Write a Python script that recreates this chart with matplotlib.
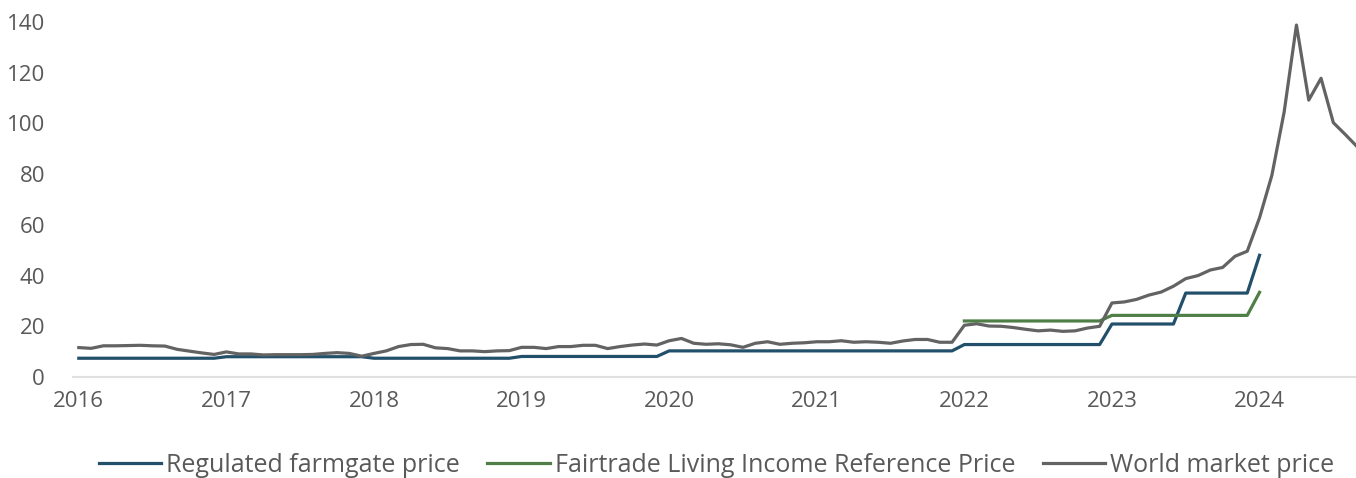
import numpy as np
import matplotlib.pyplot as plt

plt.rcParams['font.family'] = ['Open Sans', 'DejaVu Sans']

# monthly series, Jan 2016 .. Sep 2024
years = [2016, 2017, 2018, 2019, 2020, 2021, 2022, 2023, 2024]

# regulated farmgate price (Jan 2016 .. Jan 2024)
farmgate = ([7.4] * 12 + [8.0] * 12 + [7.4] * 12 + [8.1] * 12 +
            [10.3] * 24 + [12.8] * 12 + [20.9] * 6 + [33.1] * 6 + [48.0])

# Fairtrade Living Income Reference Price (Jan 2022 .. Jan 2024)
fairtrade = [22.1] * 12 + [24.3] * 12 + [33.4]

world = [11.6, 11.3, 12.3, 12.3, 12.4, 12.5, 12.3, 12.2, 10.9, 10.2, 9.5, 8.9,
         9.9, 9.1, 9.1, 8.7, 8.8, 8.8, 8.8, 8.9, 9.3, 9.6, 9.3, 8.2,
         9.3, 10.3, 12.0, 12.8, 12.9, 11.5, 11.2, 10.3, 10.3, 10.0, 10.3, 10.4,
         11.7, 11.7, 11.2, 12.0, 12.0, 12.5, 12.5, 11.2, 12.0, 12.6, 13.0, 12.6,
         14.3, 15.2, 13.3, 12.9, 13.1, 12.7, 11.7, 13.3, 13.9, 12.9, 13.3, 13.5,
         13.9, 13.9, 14.3, 13.7, 13.9, 13.7, 13.3, 14.2, 14.8, 14.8, 13.7, 13.7,
         20.4, 21.0, 20.1, 20.0, 19.5, 18.8, 18.2, 18.5, 18.0, 18.2, 19.3, 20.0,
         29.2, 29.6, 30.6, 32.3, 33.5, 35.8, 38.8, 40.0, 42.2, 43.2, 47.6, 49.6,
         62.8, 79.5, 104.5, 138.8, 109.2, 117.8, 100.3, 95.5, 90.5]

x_farm = np.arange(len(farmgate))
x_fair = np.arange(72, 72 + len(fairtrade))
x_world = np.arange(len(world))

fig = plt.figure(figsize=(13.56, 4.78), dpi=100)
ax = fig.add_axes([0.05358, 0.2113, 0.9464, 0.7692])

ax.plot(x_farm, farmgate, color='#22506b', lw=2.3, label='Regulated farmgate price')
ax.plot(x_fair, fairtrade, color='#4f7f47', lw=2.3, label='Fairtrade Living Income Reference Price')
ax.plot(x_world, world, color='#636363', lw=2.3, label='World market price')

ax.set_xlim(-0.5, 103.84)
ax.set_ylim(0, 145)
ax.set_yticks(range(0, 141, 20))
ax.set_xticks([12 * (y - 2016) for y in years])
ax.set_xticklabels([str(y) for y in years])

for s in ['top', 'right', 'left']:
    ax.spines[s].set_visible(False)
ax.spines['bottom'].set_color('#e0e0e0')
ax.spines['bottom'].set_linewidth(1.5)
ax.tick_params(length=0, labelsize=16, colors='#595959')
ax.tick_params(axis='y', pad=20)
ax.tick_params(axis='x', pad=10)

fig.legend(loc='center', bbox_to_anchor=(716.5 / 1356, 1 - 465 / 478), ncol=3,
           frameon=False, fontsize=18, handlelength=2.5, handletextpad=0.2,
           columnspacing=1.1, labelcolor='#595959')

fig.savefig('out.png', dpi=100)
